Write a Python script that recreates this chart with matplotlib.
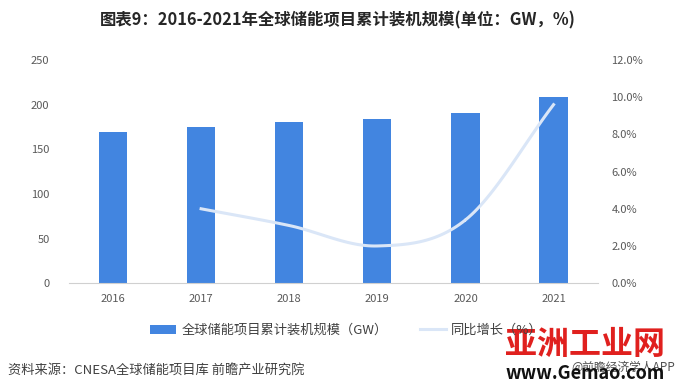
import numpy as np
import matplotlib.pyplot as plt

plt.rcParams['font.family'] = ['Noto Sans CJK SC', 'DejaVu Sans']

years = ['2016', '2017', '2018', '2019', '2020', '2021']
capacity = [169, 175, 180.5, 184, 190.5, 208.5]
growth_years = [1, 2, 3, 4, 5]
growth = [4.0, 3.1, 2.0, 3.4, 9.6]


def smooth(xs, ys, n=30):
    # Catmull-Rom curve through the points, like Excel's smoothed line
    px = np.array(xs, float)
    py = np.array(ys, float)
    px = np.concatenate([[2 * px[0] - px[1]], px, [2 * px[-1] - px[-2]]])
    py = np.concatenate([[2 * py[0] - py[1]], py, [2 * py[-1] - py[-2]]])
    ox, oy = [], []
    t = np.linspace(0, 1, n)
    for i in range(1, len(px) - 2):
        for arr, out in ((px, ox), (py, oy)):
            p0, p1, p2, p3 = arr[i - 1:i + 3]
            out.extend(0.5 * (2 * p1 + (-p0 + p2) * t
                              + (2 * p0 - 5 * p1 + 4 * p2 - p3) * t ** 2
                              + (-p0 + 3 * p1 - 3 * p2 + p3) * t ** 3))
    return ox, oy


fig = plt.figure(figsize=(6.76, 3.9), dpi=100, facecolor='white')
ax = fig.add_axes([0.102, 0.274, 0.782, 0.572])
x = np.arange(len(years))
bars = ax.bar(x, capacity, width=0.32, color='#4285e0', label='全球储能项目累计装机规模（GW）')
ax.set_xlim(-0.5, 5.5)
ax.set_ylim(0, 250)
ax.set_yticks(range(0, 251, 50))
ax.set_xticks(x)
ax.set_xticklabels(years)
for s in ['top', 'left', 'right']:
    ax.spines[s].set_visible(False)
ax.spines['bottom'].set_color('#d0d0d0')
ax.tick_params(length=0, labelsize=8, colors='#595959', pad=8)
ax.tick_params(axis='y', pad=14)

ax2 = ax.twinx()
sx, sy = smooth(growth_years, growth)
line, = ax2.plot(sx, sy, color='#dae6f7', linewidth=2.2, label='同比增长（%）')
ax2.set_ylim(0, 12)
ax2.set_yticks(range(0, 13, 2))
ax2.set_yticklabels(['{:.1f}%'.format(v) for v in range(0, 13, 2)])
for s in ax2.spines.values():
    s.set_visible(False)
ax2.tick_params(length=0, labelsize=8, colors='#595959', pad=10)

fig.legend(handles=[bars, line], loc='center left', bbox_to_anchor=(0.222, 0.153), ncol=2,
           frameon=False, fontsize=9.5, handlelength=2.0, handletextpad=0.4,
           columnspacing=2.4, labelcolor='#404040', borderpad=0, borderaxespad=0)

fig.text(0.5, 0.947, '图表9：2016-2021年全球储能项目累计装机规模(单位：GW，%)',
         ha='center', va='center', fontsize=11.8, fontweight='bold', color='#262626')
fig.text(0.012, 0.049, '资料来源：CNESA全球储能项目库 前瞻产业研究院',
         ha='left', va='center', fontsize=9.5, color='#404040')
fig.text(0.865, 0.115, '亚洲工业网', ha='center', va='center', fontsize=23,
         fontweight='bold', color='#e0201e', zorder=5)
fig.text(0.998, 0.057, '@前瞻经济学人APP', ha='right', va='center', fontsize=8.5,
         color='#505050', zorder=5)
fig.text(0.865, 0.043, 'www.Gemao.com', ha='center', va='center', fontsize=13,
         fontweight='bold', color='#111111', zorder=6)

fig.savefig('out.png', dpi=100, facecolor='white')
